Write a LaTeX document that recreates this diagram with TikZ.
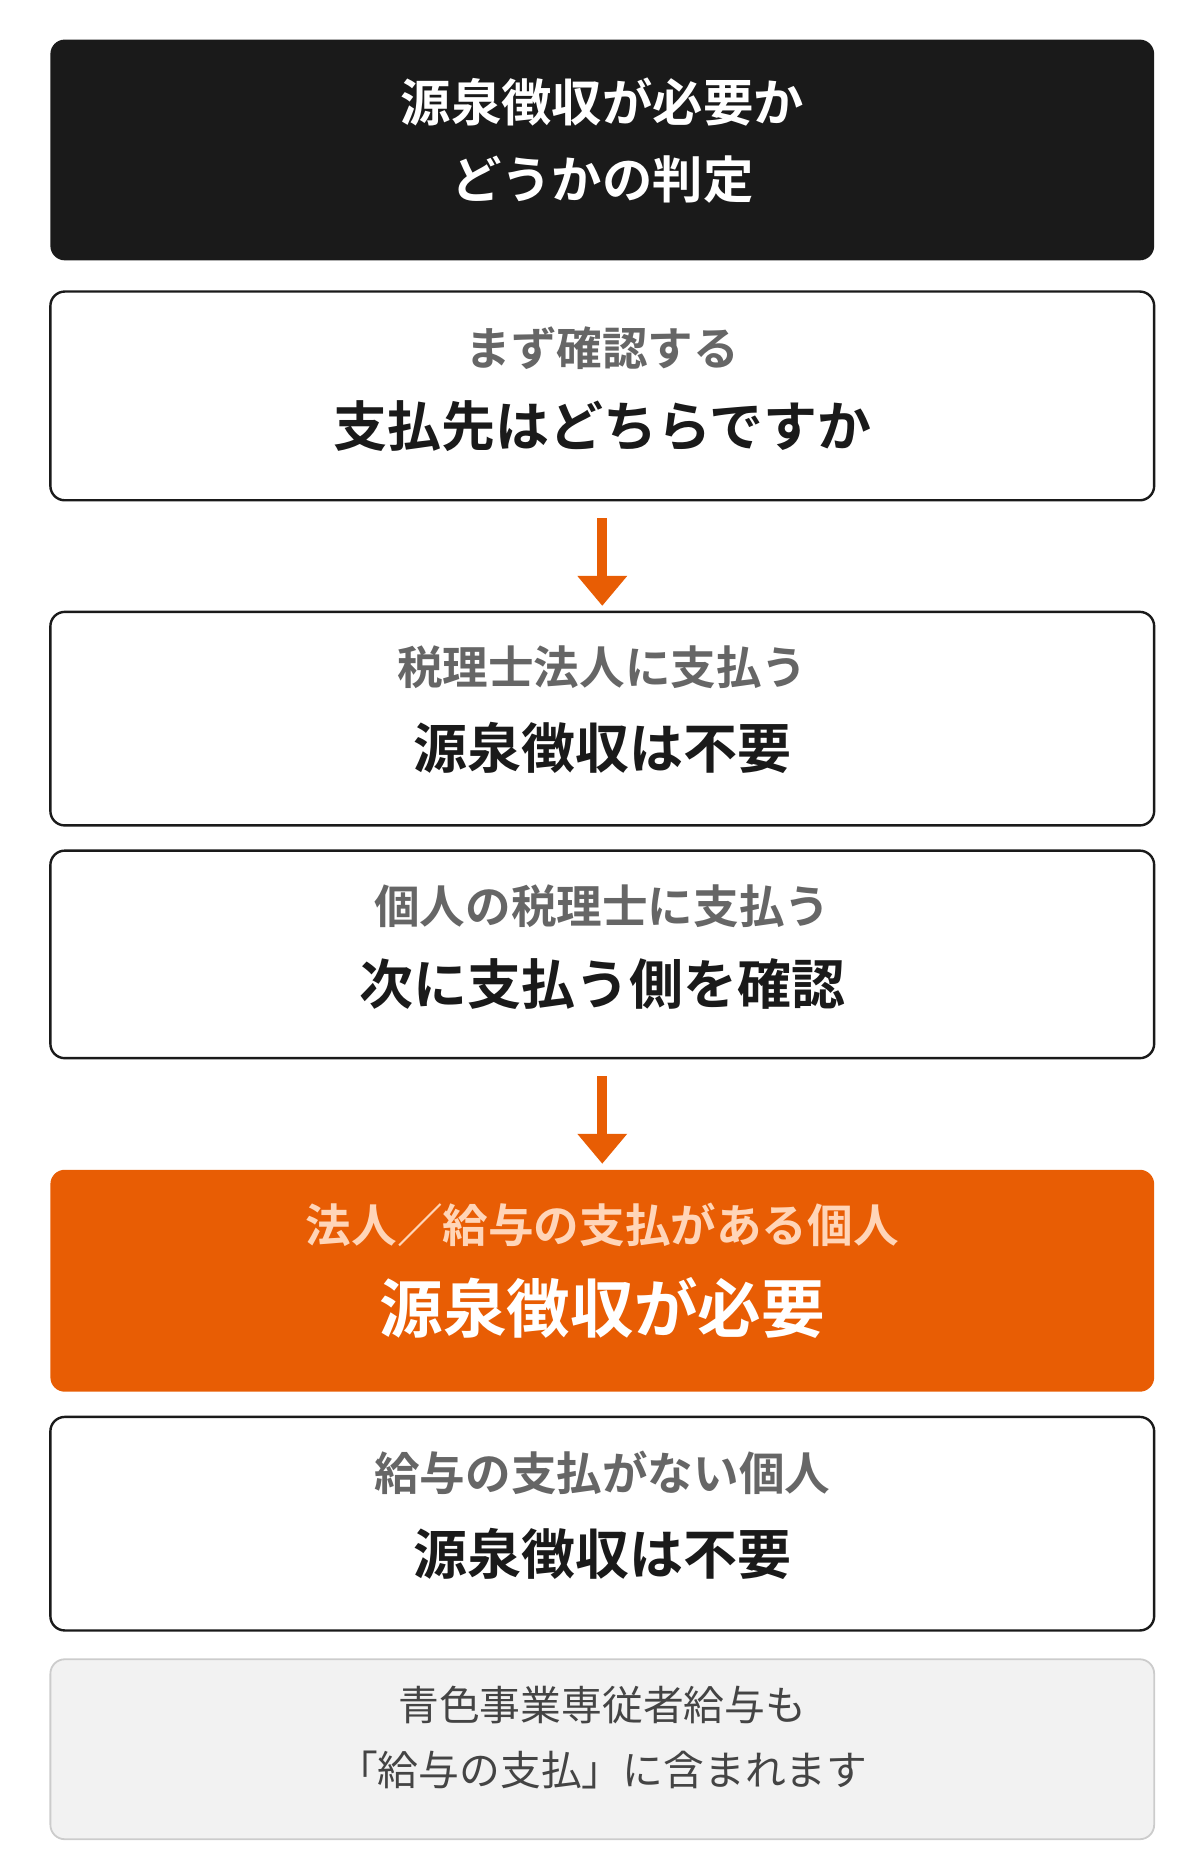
\documentclass[tikz,border=0pt]{standalone}
\usepackage{fontspec}
\newfontfamily\cjk{Noto Sans CJK JP}[BoldFont={Noto Sans CJK JP Bold}]
\usetikzlibrary{arrows.meta}
\definecolor{org}{HTML}{E85D04}
\definecolor{peach}{HTML}{FFD5B8}
\definecolor{gtxt}{HTML}{666666}
\definecolor{ntxt}{HTML}{444444}
\definecolor{nfill}{HTML}{F2F2F2}
\definecolor{nline}{HTML}{CCCCCC}
\definecolor{blk}{HTML}{1A1A1A}
\begin{document}
\begin{tikzpicture}[x=0.5pt,y=-0.5pt,
  box/.style={draw=blk,line width=1pt,rounded corners=6pt,fill=white},
  sub/.style={font=\cjk\fontsize{19}{23}\selectfont\bfseries,text=gtxt},
  main/.style={font=\cjk\fontsize{22.5}{27}\selectfont\bfseries,text=blk},
  arr/.style={draw=org,line width=4pt,-{Triangle[width=20pt,length=12.5pt]},shorten <=7.5pt,shorten >=2.5pt}]
\useasboundingbox (0,0) rectangle (1000,1562);
\fill[blk,rounded corners=6pt] (42,33) rectangle (962,217);
\node[font=\cjk\fontsize{21}{25}\selectfont\bfseries,text=white] (t1) at (502,85) {源泉徴収が必要か};
\node[font=\cjk\fontsize{21}{25}\selectfont\bfseries,text=white] (t2) at (502,150) {どうかの判定};
\draw[box] (42,243) rectangle (962,417);
\coordinate (b2s) at (502,417);
\node[sub] (s2) at (502,290) {まず確認する};
\node[main] (m2) at (502,355) {支払先はどちらですか};
\draw[box] (42,510) rectangle (962,688);
\coordinate (b3n) at (502,510);
\node[sub] (s3) at (502,556) {税理士法人に支払う};
\node[main] (m3) at (502,623) {源泉徴収は不要};
\draw[box] (42,709) rectangle (962,882);
\coordinate (b4s) at (502,882);
\node[sub] (s4) at (502,755) {個人の税理士に支払う};
\node[main] (m4) at (502,820) {次に支払う側を確認};
\fill[org,rounded corners=6pt] (42,975) rectangle (962,1160);
\coordinate (b5n) at (502,975);
\node[sub,text=peach] (s5) at (502,1021) {法人／給与の支払がある個人};
\node[font=\cjk\fontsize{26.5}{30}\selectfont\bfseries,text=white] (m5) at (502,1090) {源泉徴収が必要};
\draw[box] (42,1181) rectangle (962,1359);
\node[sub] (s6) at (502,1228) {給与の支払がない個人};
\node[main] (m6) at (502,1295) {源泉徴収は不要};
\draw[draw=nline,fill=nfill,line width=0.75pt,rounded corners=6pt] (42,1383) rectangle (962,1533);
\node[font=\cjk\fontsize{17}{21}\selectfont,text=ntxt] (n1) at (502,1421) {青色事業専従者給与も};
\node[font=\cjk\fontsize{17}{21}\selectfont,text=ntxt] (n2) at (502,1475) {「給与の支払」に含まれます};
\draw[arr] (b2s) -- (b3n);
\draw[arr] (b4s) -- (b5n);
\end{tikzpicture}
\end{document}
